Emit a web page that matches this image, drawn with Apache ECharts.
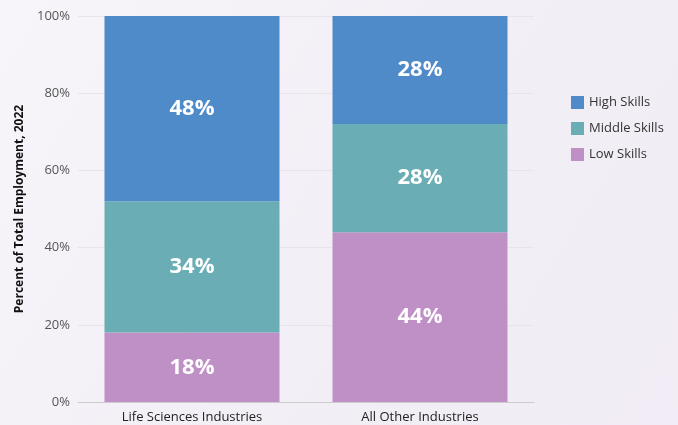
<!DOCTYPE html>
<html><head><meta charset="utf-8">
<script src="https://cdn.jsdelivr.net/npm/echarts@6/dist/echarts.min.js"></script>
<style>html,body{margin:0;padding:0;background:#f4f1f8;}#c{width:678px;height:425px;}</style>
</head><body><div id="c"></div>
<script>
const categories = ['Life Sciences Industries', 'All Other Industries'];
const lowSkills = [18, 44];
const middleSkills = [34, 28];
const highSkills = [48, 28];
const seriesNames = ['High Skills', 'Middle Skills', 'Low Skills'];
const colors = {'High Skills': '#4f8ac9', 'Middle Skills': '#6badb5', 'Low Skills': '#be90c6'};

const chart = echarts.init(document.getElementById('c'));
const font = '"Open Sans", sans-serif';
function mk(name, data) {
  return {
    name, type: 'bar', stack: 's', data, barWidth: 175,
    itemStyle: {color: colors[name]},
    label: {show: true, position: 'inside', formatter: '{c}%', color: '#fff', fontSize: 22, fontWeight: 'bold', fontFamily: font}
  };
}
chart.setOption({
  backgroundColor: {
    type: 'linear', x: 0, y: 0, x2: 1, y2: 1,
    colorStops: [{offset: 0, color: '#f7f5fa'}, {offset: 0.5, color: '#f2eff6'}, {offset: 1, color: '#f1ecf5'}]
  },
  animation: false,
  grid: {left: 78, right: 144, top: 16, bottom: 23, containLabel: false},
  legend: {
    orient: 'vertical', left: 566, top: 91, itemWidth: 13, itemHeight: 13, itemGap: 13,
    data: seriesNames, icon: 'rect',
    textStyle: {fontSize: 13, color: '#333', fontFamily: font}
  },
  xAxis: {
    type: 'category', data: categories,
    axisLine: {lineStyle: {color: '#ccc'}}, axisTick: {show: false},
    axisLabel: {fontSize: 13, color: '#222', fontFamily: font, margin: 9}
  },
  yAxis: {
    type: 'value', min: 0, max: 100, interval: 20,
    name: 'Percent of Total Employment, 2022', nameLocation: 'middle', nameGap: 52,
    nameTextStyle: {fontSize: 12, fontWeight: 'bold', color: '#111', fontFamily: font},
    axisLabel: {formatter: '{value}%', fontSize: 13, color: '#555', fontFamily: font, margin: 8},
    splitLine: {lineStyle: {color: '#e8e4ec'}}
  },
  series: [mk('Low Skills', lowSkills), mk('Middle Skills', middleSkills), mk('High Skills', highSkills)]
});
</script></body></html>
